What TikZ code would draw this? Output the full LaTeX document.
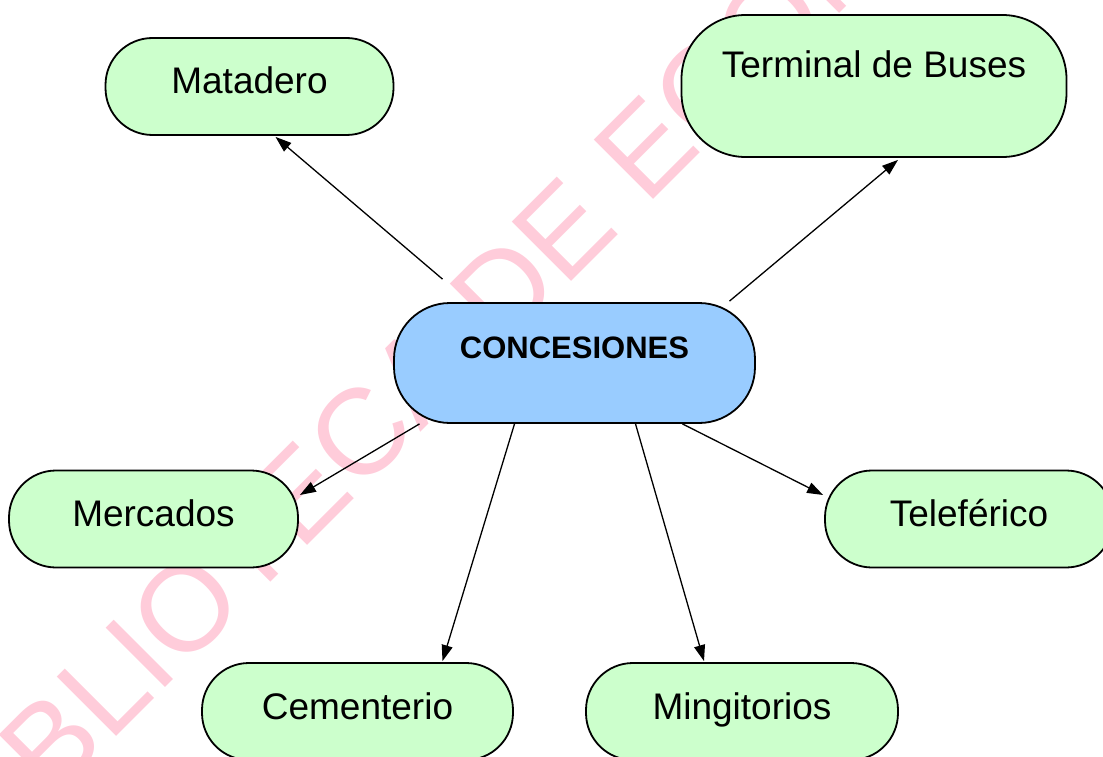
\documentclass[tikz,border=0pt]{standalone}
\usepackage{fontspec}
\setmainfont{Liberation Sans}
\usetikzlibrary{calc,arrows.meta}
\definecolor{verdeclaro}{RGB}{204,255,204}
\definecolor{azulclaro}{RGB}{153,204,255}
\definecolor{rosa}{RGB}{255,204,218}

\begin{document}
\begin{tikzpicture}[x=1pt, y=-1pt, >={Triangle[length=16pt,width=11pt]},
  idea/.style={draw=black, line width=1.8pt, fill=verdeclaro, rounded corners=47pt, inner sep=0pt,
    minimum height=97pt, font=\fontsize{37}{44}\selectfont, text height=27pt, text depth=12pt},
  central/.style={draw=black, line width=1.8pt, fill=azulclaro, rounded corners=56pt, inner sep=0pt,
    minimum width=361pt, minimum height=120pt, font=\fontsize{31}{37}\selectfont\bfseries, text height=23pt, text depth=33pt},
  flecha/.style={->, line width=1.3pt}]
\useasboundingbox (0,0) rectangle (1103,757);
\clip (0,0) rectangle (1103,757);
% marca de agua
\node[rotate=45, anchor=base west, inner sep=0pt, text=rosa, font=\fontsize{122}{140}\selectfont] (agua) at (-30,883) {BIBLIOTECA DE ECONOMIA};
\node[central] (c) at (574.5,363) {CONCESIONES};
\node[idea, minimum width=288pt] (mat) at (249.5,86.5) {Matadero};
\node[idea, minimum width=385pt, minimum height=142pt, rounded corners=64pt, text depth=43pt] (ter) at (874,86) {Terminal de Buses};
\node[idea, minimum width=289pt] (mer) at (153.5,519) {Mercados};
\node[idea, minimum width=288pt] (tel) at (969,519) {Teleférico};
\node[idea, minimum width=311pt] (cem) at (357.5,711.5) {Cementerio};
\node[idea, minimum width=312pt] (min) at (742,711.5) {Mingitorios};
\draw[flecha] ($(c.north)+(-132,-23)$) -- ($(mat.south)+(26,1)$);
\draw[flecha] ($(c.north)+(155,-1)$) -- ($(ter.south)+(24,2)$);
\draw[flecha] ($(c.south)+(-155,0)$) -- ($(mer.east)+(1,-24)$);
\draw[flecha] ($(c.south)+(-60,0)$) -- ($(cem.north)+(85,-1)$);
\draw[flecha] ($(c.south)+(61,0)$) -- ($(min.north)+(-38,-1)$);
\draw[flecha] ($(c.south)+(108,0)$) -- ($(tel.west)+(-1,-24)$);
\end{tikzpicture}
\end{document}
